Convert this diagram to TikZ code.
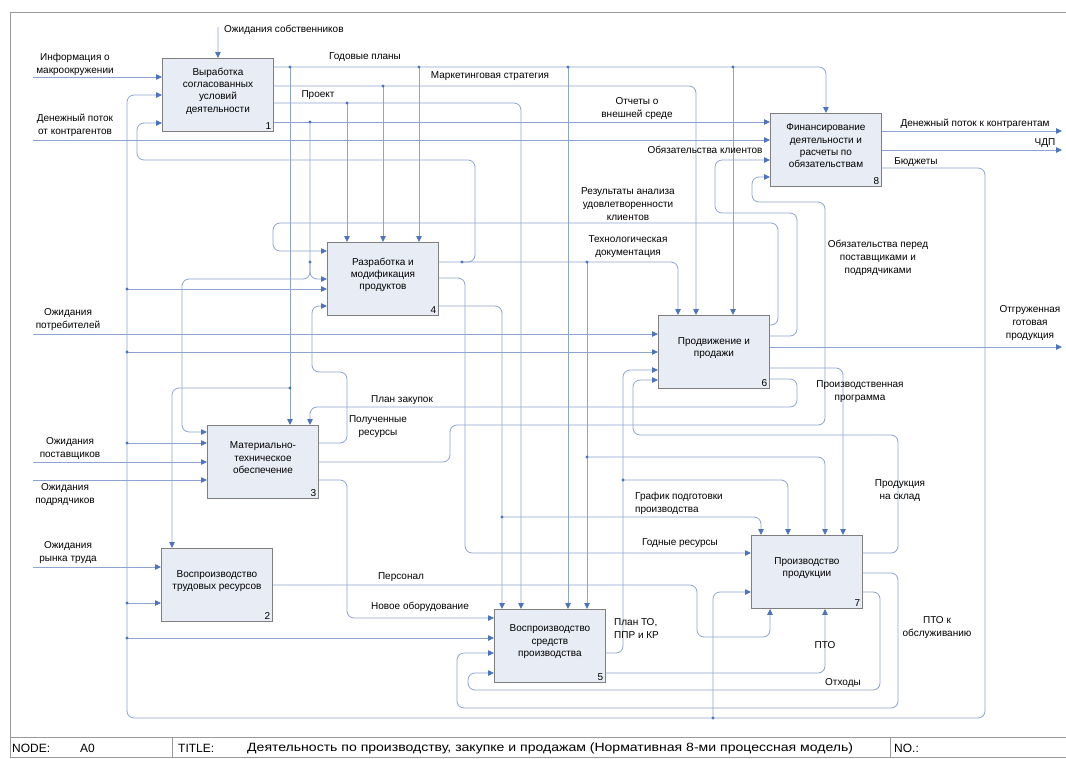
\documentclass[tikz,border=0pt]{standalone}
\usepackage{fontspec}
\setmainfont{Liberation Sans}
\newfontfamily\titlefont[FakeStretch=1.17]{Liberation Sans}
\usetikzlibrary{arrows.meta}

\definecolor{wireblue}{HTML}{8DA3D0}
\definecolor{tipblue}{HTML}{4B74BC}
\definecolor{boxfill}{HTML}{E8ECF5}
\definecolor{boxline}{HTML}{7F7F7F}
\definecolor{framegray}{HTML}{9A9A9A}

\tikzset{
  func/.style={draw=boxline, fill=boxfill, line width=0.9pt, minimum width=111pt, minimum height=73pt, inner sep=0pt},
  ftext/.style={align=center, font=\fontsize{10}{12.4}\selectfont, inner sep=0pt},
  num/.style={anchor=south east, font=\fontsize{10}{12}\selectfont, inner sep=2.5pt},
  wire/.style={draw=wireblue, line width=0.8pt, rounded corners=7pt},
  arr/.style={wire, -{Triangle[length=6pt,width=5.5pt,color=tipblue]}},
  lbl/.style={align=center, font=\fontsize{10}{13}\selectfont, inner sep=1pt},
  frame/.style={draw=framegray, line width=0.8pt},
  bar/.style={font=\fontsize{12}{14}\selectfont, anchor=west, inner sep=0pt},
}

\newcommand{\drawFunc}[5]{
    \node[func, anchor=north west] (#1) at (#2,#3) {};
    \node[ftext] (#1t) at ([yshift=4pt]#1.center) {#5};
    \node[num] (#1n) at (#1.south east) {#4};
}
\newcommand{\junc}[2]{\fill[tipblue] (#1,#2) circle (1.6);}

\begin{document}
\begin{tikzpicture}[x=1pt,y=-1pt]
\useasboundingbox (0,0) rectangle (1066,758);

% Frame
\draw[frame] (1070,12) -- (10,12) -- (10,737);

% Functions
\drawFunc{b1}{162}{58}{1}{Выработка\\согласованных\\условий\\деятельности}
\drawFunc{b2}{161}{548}{2}{Воспроизводство\\трудовых ресурсов}
\drawFunc{b3}{207}{425}{3}{Материально-\\техническое\\обеспечение}
\drawFunc{b4}{327}{242}{4}{Разработка и\\модификация\\продуктов}
\drawFunc{b5}{494}{609}{5}{Воспроизводство\\средств\\производства}
\drawFunc{b6}{658}{315}{6}{Продвижение и\\продажи}
\drawFunc{b7}{751}{535}{7}{Производство\\продукции}
\drawFunc{b8}{770}{113}{8}{Финансирование\\деятельности и\\расчеты по\\обязательствам}

% Free ends
\coordinate (inOwner) at (218,27);
\coordinate (inInfo) at (33,77);
\coordinate (inMoney) at (33,140);
\coordinate (inCust) at (33,334);
\coordinate (inSupp) at (33,462);
\coordinate (inContr) at (33,480);
\coordinate (inLabour) at (33,567);
\coordinate (outMoney) at (1062,131);
\coordinate (outCash) at (1062,150);
\coordinate (outShip) at (1062,347);

% External inputs and outputs
\draw[arr] (inOwner) -- (b1.north);
\draw[arr] (inInfo) -- (b1.west |- inInfo);
\draw[arr] (inMoney) -- (b8.west |- inMoney);
\draw[arr] (inCust) -- (b6.west |- inCust);
\draw[arr] (inSupp) -- (b3.west |- inSupp);
\draw[arr] (inContr) -- (b3.west |- inContr);
\draw[arr] (inLabour) -- (b2.west |- inLabour);
\draw[arr] (b8.east |- outMoney) -- (outMoney);
\draw[arr] (b8.east |- outCash) -- (outCash);
\draw[arr] (b6.east |- outShip) -- (outShip);

% Budgets bus round the picture
\draw[arr] (b8.east |- 0,168) -- (985,168) -- (985,718) -- (127,718) -- (127,95) -- (b1.west |- 0,95);
\foreach \y/\b in {289/b4, 352/b6, 443/b3, 603/b2, 638/b5} {
    \draw[arr] (127,\y) -- (\b.west |- 0,\y);
    \junc{127}{\y}
}
\draw[arr] (713,718) |- (b7.west |- 0,592);
\junc{713}{718}

% Outputs of 1
\draw[arr] (b1.east |- 0,67) -| (b8.north);
\foreach \x/\b in {290/b3, 419/b4, 568/b5, 733/b6} {
    \draw[arr] (\x,67) -- (\b.north -| \x,0);
    \junc{\x}{67}
}
\draw[arr] (290,388) -| (b2.north -| 172,0);
\junc{290}{388}
\draw[arr] (b1.east |- 0,86) -| (b6.north -| 696,0);
\draw[arr] (383,86) -- (b4.north -| 383,0);
\junc{383}{86}
\draw[arr] (b1.east |- 0,103) -| (b5.north -| 521,0);
\draw[arr] (347,103) -- (b4.north -| 347,0);
\junc{347}{103}
\draw[arr] (b1.east |- 0,122) -- (b8.west |- 0,122);
\draw[arr] (310,122) -- (310,279) -- (b4.west |- 0,279);
\draw[arr] (310,262) -- (310,279) -- (182,279) -- (182,432) -- (b3.west |- 0,432);
\junc{310}{122}
\junc{310}{262}

% Outputs of 4
\draw[arr] (b4.east |- 0,262) -| (b6.north -| 678,0);
\draw[arr] (462,262) -- (475,262) -- (475,160) -- (137,160) -- (137,123) -- (b1.west |- 0,123);
\draw[arr] (587,262) -- (b5.north -| 587,0);
\draw[arr] (587,457) -| (b7.north -| 825,0);
\junc{462}{262}
\junc{587}{262}
\junc{587}{457}
\draw[arr] (b4.east |- 0,278) -- (465,278) -- (465,553) -- (b7.west |- 0,553);
\draw[arr] (b4.east |- 0,306) -| (b5.north -| 502,0);
\draw[arr] (502,517) -| (b7.north -| 761,0);
\junc{502}{517}

% Outputs of 6
\draw[arr] (b6.east |- 0,325) -- (778,325) -- (778,223) -- (273,223) -- (273,251) -- (b4.west |- 0,251);
\draw[arr] (b6.east |- 0,336) -- (797,336) -- (797,213) -- (715,213) -- (715,160) -- (b8.west |- 0,160);
\draw[arr] (b6.east |- 0,368) -| (b7.north -| 843,0);
\draw[arr] (b6.east |- 0,379) -- (797,379) -- (797,407) -- (310,407) -- (b3.north -| 310,0);

% Outputs of 3
\draw[arr] (b3.east |- 0,462) -- (450,462) -- (450,425) -- (825,425) -- (825,202) -- (752,202) -- (752,177) -- (b8.west |- 0,177);
\draw[arr] (b3.east |- 0,443) -- (347,443) -- (347,372) -- (312,372) -- (312,306) -- (b4.west |- 0,306);
\draw[arr] (b3.east |- 0,480) -- (347,480) -- (347,618) -- (b5.west |- 0,618);

% Output of 2
\draw[arr] (b2.east |- 0,585) -- (697,585) -- (697,637) -- (770,637) -- (b7.south -| 770,0);

% Outputs of 5
\draw[arr] (b5.east |- 0,653) -- (623,653) -- (623,370) -- (b6.west |- 0,370);
\draw[arr] (623,480) -| (b7.north -| 788,0);
\junc{623}{480}
\draw[arr] (b5.east |- 0,673) -| (b7.south -| 825,0);

% Outputs of 7
\draw[arr] (b7.east |- 0,553) -- (898,553) -- (898,435) -- (633,435) -- (633,380) -- (b6.west |- 0,380);
\draw[arr] (b7.east |- 0,573) -- (898,573) -- (898,708) -- (457,708) -- (457,653) -- (b5.west |- 0,653);
\draw[arr] (b7.east |- 0,592) -- (880,592) -- (880,690) -- (468,690) -- (468,673) -- (b5.west |- 0,673);

% Labels
\node[lbl, anchor=west] (lOwner) at (223,30) {Ожидания собственников};
\node[lbl] (lInfo) at (75,64) {Информация о\\макроокружении};
\node[lbl] (lMoney) at (75,125) {Денежный поток\\от контрагентов};
\node[lbl] (lPlans) at (365,57) {Годовые планы};
\node[lbl] (lMarket) at (490,76) {Маркетинговая стратегия};
\node[lbl] (lProj) at (318,95) {Проект};
\node[lbl] (lReports) at (637,109) {Отчеты о\\внешней среде};
\node[lbl] (lCustDebt) at (705,150) {Обязательства клиентов};
\node[lbl] (lSurvey) at (628,204) {Результаты анализа\\удовлетворенности\\клиентов};
\node[lbl] (lTech) at (628,247) {Технологическая\\документация};
\node[lbl] (lSuppDebt) at (878,258) {Обязательства перед\\поставщиками и\\подрядчиками};
\node[lbl] (lMoneyOut) at (975,124) {Денежный поток к контрагентам};
\node[lbl] (lCash) at (1045,143) {ЧДП};
\node[lbl] (lBudget) at (916,162) {Бюджеты};
\node[lbl] (lShip) at (1030,323) {Отгруженная\\готовая\\продукция};
\node[lbl] (lCust) at (68,320) {Ожидания\\потребителей};
\node[lbl] (lProgram) at (860,392) {Производственная\\программа};
\node[lbl] (lPurch) at (402,400) {План закупок};
\node[lbl] (lGot) at (378,427) {Полученные\\ресурсы};
\node[lbl] (lSupp) at (70,448) {Ожидания\\поставщиков};
\node[lbl] (lContr) at (65,495) {Ожидания\\подрядчиков};
\node[lbl] (lLabour) at (68,553) {Ожидания\\рынка труда};
\node[lbl] (lStock) at (900,491) {Продукция\\на склад};
\node[lbl, anchor=west, align=left] (lSched) at (634,503) {График подготовки\\производства};
\node[lbl] (lGood) at (680,543) {Годные ресурсы};
\node[lbl] (lStaff) at (401,577) {Персонал};
\node[lbl] (lEquip) at (420,607) {Новое оборудование};
\node[lbl, anchor=west, align=left] (lMaint) at (613,628) {План ТО,\\ППР и КР};
\node[lbl] (lService) at (937,628) {ПТО к\\обслуживанию};
\node[lbl] (lPto) at (825,645) {ПТО};
\node[lbl] (lWaste) at (843,683) {Отходы};

% Title bar
\draw[frame, fill=white] (10,737) rectangle (1070,757.5);
\draw[frame] (172,737) -- (172,757.5);
\draw[frame] (890,737) -- (890,757.5);
\node[bar] (tNode) at (12,748) {NODE:};
\node[bar] (tA0) at (80,748) {A0};
\node[bar] (tTitle) at (178,748) {TITLE:};
\node[bar] (tText) at (247,748) {\titlefont Деятельность по производству, закупке и продажам (Нормативная 8-ми процессная модель)};
\node[bar] (tNo) at (894,748) {NO.:};

\end{tikzpicture}
\end{document}
